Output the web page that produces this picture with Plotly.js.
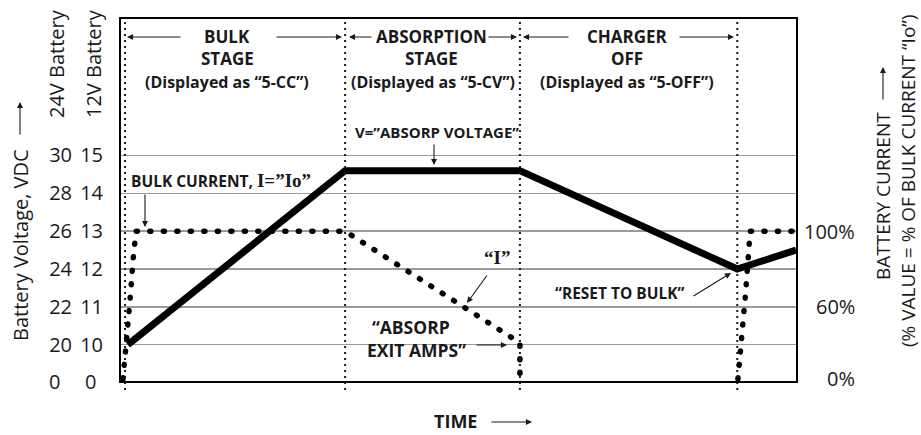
<!DOCTYPE html>
<html>
<head>
<meta charset="utf-8">
<script src="https://cdn.plot.ly/plotly-3.0.1.min.js"></script>
<style>
  html, body { margin: 0; padding: 0; background: #fff; }
  #chart { width: 921px; height: 435px; }
</style>
</head>
<body>
<div id="chart"></div>
<script>
// ---------------- DATA ----------------
// time in arbitrary units (schematic chart)
const stageBoundaries = [0, 32.6, 58.5, 90.7];        // bulk start, absorption start, charger off, reset to bulk
const stageNames = ["BULK", "ABSORPTION", "CHARGER"];
const stageSecondLine = ["STAGE", "STAGE", "OFF"];
const stageDisplays = ["(Displayed as “5-CC”)", "(Displayed as “5-CV”)", "(Displayed as “5-OFF”)"];

// battery voltage (12 V battery scale)
const voltageTime = [0.4, 32.6, 58.5, 90.7, 99.4];
const voltage12 = [10.0, 14.6, 14.6, 12.0, 12.5];

// battery current, % of bulk current Io ("0%" sits on the broken floor of the axis)
const CURRENT_ZERO = 22;
const currentTime = [-0.3, 0.25, 0.74, 1.19, 1.63, 32.6, 58.5, 58.5, null, 90.8, 91.4, 91.85, 92.3, 92.6, 99.4];
const currentPct = [CURRENT_ZERO, 41, 64, 85, 100, 100, 41, CURRENT_ZERO, null, CURRENT_ZERO, 44, 64, 85, 100, 100];

// tick labels
const VOLT_FLOOR = 9.042;   // broken axis: "0" at the floor
const tick12Vals = [10, 11, 12, 13, 14, 15];
const tick12Text = ["10", "11", "12", "13", "14", "15"];
const tick24Vals = [20, 22, 24, 26, 28, 30];
const tick24Text = ["20", "22", "24", "26", "28", "30"];
const floorLabel = "0";
const currentTickVals = [CURRENT_ZERO, 60, 100];
const currentTickText = ["0%", "60%", "100%"];

// ---------------- LAYOUT HELPERS ----------------
const W = 921, H = 435;
const PL = 121, PR = 796, PT = 19, PB = 381;
const px2x = (px) => px / W;
const px2y = (py) => (PB - py) / (PB - PT);
const FONT = "Open Sans, DejaVu Sans, sans-serif";
const INK = "#1a1a1a";

function txt(x, y, text, size, bold, extra) {
  return Object.assign({
    xref: "paper", yref: "paper", x: px2x(x), y: px2y(y),
    xanchor: "center", yanchor: "middle", showarrow: false,
    text: bold ? "<b>" + text + "</b>" : text,
    font: { family: FONT, size: size, color: INK }
  }, extra || {});
}
function arrow(tx, ty, hx, hy) {
  return {
    xref: "paper", yref: "paper", x: px2x(hx), y: px2y(hy),
    axref: "pixel", ayref: "pixel", ax: tx - hx, ay: ty - hy,
    text: "", showarrow: true, arrowhead: 2, arrowsize: 1.1, arrowwidth: 1.1,
    arrowcolor: INK, standoff: 0, startstandoff: 0
  };
}

const headerX = [227, 431, 627];
const annotations = [];
for (let i = 0; i < 3; i++) {
  annotations.push(txt(headerX[i], 37, stageNames[i], 17, true));
  annotations.push(txt(headerX[i], 58, stageSecondLine[i], 17, true));
  annotations.push(txt(headerX[i] + (i === 1 ? 2 : 0), 82, stageDisplays[i], 16, true));
}
// header arrows
annotations.push(arrow(182, 37, 127, 37));
annotations.push(arrow(275, 37, 342, 37));
annotations.push(arrow(373, 37, 349, 37));
annotations.push(arrow(487, 37, 517, 37));
annotations.push(arrow(570, 37, 523, 37));
annotations.push(arrow(678, 37, 734, 37));

const SERIF = "Liberation Serif, DejaVu Serif, serif";
annotations.push(txt(437, 132, "V=”ABSORP VOLTAGE”", 15, true));
annotations.push(arrow(434, 143, 434, 165));
annotations.push(txt(221, 181, "BULK CURRENT, <span style=\"font-family:" + SERIF + ";font-size:19px\">I=”Io”</span>", 15.5, true));
annotations.push(arrow(145, 193, 145, 227));
annotations.push(txt(497, 257, "<span style=\"font-family:" + SERIF + "\">“I”</span>", 19, true));
annotations.push(arrow(488, 274, 467, 303));
annotations.push(txt(411, 327, "“ABSORP", 17.5, true));
annotations.push(txt(416, 350, "EXIT AMPS”", 17.5, true));
annotations.push(arrow(475, 345, 507, 345));
annotations.push(txt(620, 293, "“RESET TO BULK”", 15.5, true));
annotations.push(arrow(692, 297, 731, 273));
annotations.push(txt(455, 421, "TIME", 18, true));
annotations.push(arrow(490, 422, 532, 422));

// axis titles
annotations.push(txt(20, 245, "Battery Voltage, VDC", 20, false, { textangle: -90 }));
annotations.push(arrow(20, 136, 20, 102));
annotations.push(txt(57, 64, "24V Battery", 20, false, { textangle: -90 }));
annotations.push(txt(94, 64, "12V Battery", 20, false, { textangle: -90 }));
annotations.push(txt(883, 196, "BATTERY CURRENT", 19, false, { textangle: -90 }));
annotations.push(arrow(883, 101, 883, 67));
annotations.push(txt(908, 181, "(% VALUE = % OF BULK CURRENT “Io”)", 19, false, { textangle: -90 }));

const tickFont = { family: FONT, size: 20, color: INK };
// floor ("0") labels of the broken voltage axes, left aligned with the columns
[47, 83].forEach(xp => annotations.push({
  xref: "paper", yref: "y", x: px2x(xp), y: VOLT_FLOOR, xanchor: "left", yanchor: "middle",
  text: floorLabel, showarrow: false, font: tickFont
}));
// current axis labels, right aligned as in the original
currentTickVals.forEach((v, i) => annotations.push({
  xref: "paper", yref: "y2", x: px2x(857), y: v, xanchor: "right", yanchor: "middle",
  text: currentTickText[i], showarrow: false, font: tickFont
}));

// stage dividers
const shapes = stageBoundaries.map(t => ({
  type: "line", xref: "x", yref: "paper", x0: t, x1: t, y0: px2y(390), y1: px2y(22),
  line: { color: INK, width: 2, dash: "2px,4px" }, layer: "above"
}));

// ---------------- TRACES ----------------
const traces = [
  {
    x: currentTime, y: currentPct, yaxis: "y2", type: "scatter", mode: "lines",
    line: { color: "#000", width: 5.5, dash: "1px,12.5px" }, connectgaps: false,
    hoverinfo: "skip", showlegend: false
  },
  {
    x: voltageTime, y: voltage12, yaxis: "y", type: "scatter", mode: "lines",
    line: { color: "#000", width: 7 }, hoverinfo: "skip", showlegend: false
  },
  // invisible trace so the 24 V axis is drawn
  { x: [0], y: [20], yaxis: "y3", type: "scatter", mode: "markers",
    marker: { opacity: 0 }, hoverinfo: "skip", showlegend: false }
];

const layout = {
  width: W, height: H,
  margin: { l: 0, r: 0, t: PT, b: H - PB, pad: 0 },
  paper_bgcolor: "#fff", plot_bgcolor: "#fff",
  showlegend: false,
  xaxis: {
    domain: [px2x(PL), px2x(PR)], range: [-0.6, 99.4],
    showticklabels: false, ticks: "", showgrid: false, zeroline: false,
    showline: true, mirror: true, linecolor: "#000", linewidth: 2
  },
  yaxis: {
    range: [VOLT_FLOOR, 18.606], anchor: "x",
    tickvals: tick12Vals, ticktext: tick12Text, tickfont: tickFont,
    ticks: "", ticklabelstandoff: 12,
    showgrid: true, gridcolor: "#9a9a9a", gridwidth: 1.5, zeroline: false,
    showline: true, mirror: true, linecolor: "#000", linewidth: 2
  },
  yaxis3: {
    range: [2 * VOLT_FLOOR, 2 * 18.606], overlaying: "y", side: "left", anchor: "x",
    tickvals: tick24Vals, ticktext: tick24Text, tickfont: tickFont,
    ticks: "", ticklabelstandoff: 48,
    showgrid: false, zeroline: false, showline: false
  },
  yaxis2: {
    range: [20.85, 212.13], overlaying: "y", side: "right", anchor: "x",
    showticklabels: false, ticks: "",
    showgrid: false, zeroline: false, showline: false
  },
  shapes: shapes,
  annotations: annotations
};

Plotly.newPlot("chart", traces, layout, { staticPlot: true, displayModeBar: false }).then(gd => {
  gd.querySelectorAll("path.js-line").forEach(p => {
    if (p.style.strokeDasharray && p.style.strokeDasharray !== "none") {
      p.style.strokeLinecap = "round";
    }
  });
});
</script>
</body>
</html>
